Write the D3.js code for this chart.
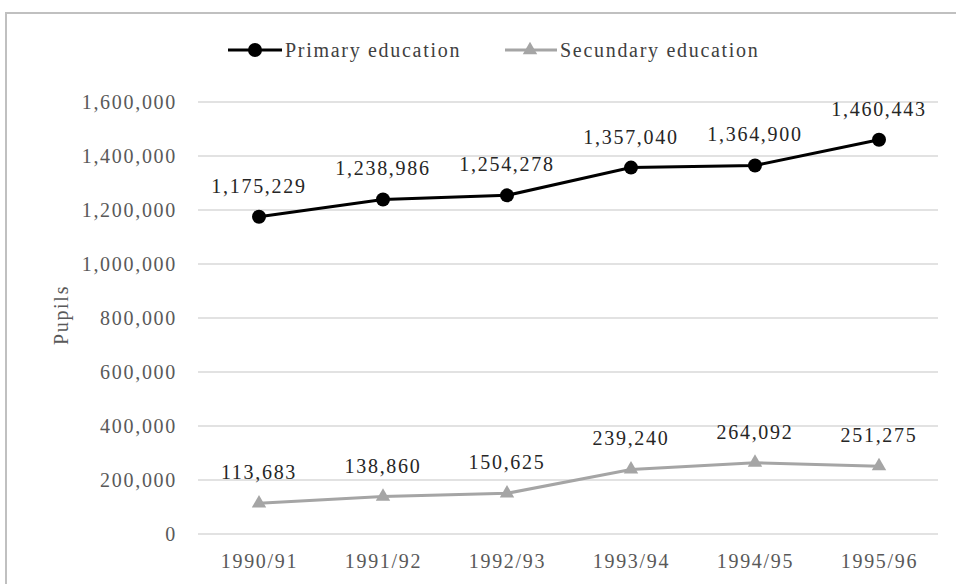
<!DOCTYPE html>
<html><head><meta charset="utf-8">
<script src="https://cdn.jsdelivr.net/npm/d3@7"></script>
</head>
<body style="margin:0;background:#fff;overflow:hidden"><svg id="c" width="956" height="584"></svg>
<script>
const categories = ["1990/91","1991/92","1992/93","1993/94","1994/95","1995/96"];
const primary = [1175229,1238986,1254278,1357040,1364900,1460443];
const secondary = [113683,138860,150625,239240,264092,251275];
const yTicks = [0,200000,400000,600000,800000,1000000,1200000,1400000,1600000];
const seriesNames = ["Primary education","Secundary education"];

const FONT = '"Liberation Serif"';
const LS = "1.7px";
const svg = d3.select("#c");
function txt(sel, size, fill){
  return sel.style("font-family",FONT).style("font-size",size+"px")
    .style("letter-spacing",LS).attr("fill",fill);
}
// chart border
svg.append("rect").attr("x",6).attr("y",13).attr("width",1000).attr("height",640)
  .attr("fill","#fff").attr("stroke","#c0c0c0").attr("stroke-width",2);

const x = d3.scalePoint().domain(categories).range([259,879]);
const y = d3.scaleLinear().domain([0,1600000]).range([534,102]);
const fmt = d3.format(",");

// gridlines
svg.append("g").selectAll("line").data(yTicks).join("line")
  .attr("x1",198).attr("x2",938).attr("y1",d=>y(d)).attr("y2",d=>y(d))
  .attr("stroke","#d9d9d9").attr("stroke-width",1.5);

// y axis
const ya = svg.append("g").attr("transform","translate(184,0)")
  .call(d3.axisLeft(y).tickValues(yTicks).tickFormat(fmt).tickSize(0).tickPadding(7));
ya.select(".domain").remove();
txt(ya.selectAll("text"),20,"#595959");

// x axis
const xa = svg.append("g").attr("transform","translate(0,534)")
  .call(d3.axisBottom(x).tickSize(0).tickPadding(20));
xa.select(".domain").remove();
txt(xa.selectAll("text"),20,"#595959");

// y title
txt(svg.append("text").attr("transform","translate(68,315) rotate(-90)")
  .attr("text-anchor","middle"),20,"#595959").text("Pupils");

const line = d3.line().x((d,i)=>x(categories[i])).y(d=>y(d));

// secondary series
svg.append("path").datum(secondary).attr("d",line).attr("fill","none")
  .attr("stroke","#a5a5a5").attr("stroke-width",3);
const tri = d3.symbol().type(d3.symbolTriangle).size(90);
svg.append("g").selectAll("path").data(secondary).join("path")
  .attr("d",tri).attr("fill","#a5a5a5")
  .attr("transform",(d,i)=>`translate(${x(categories[i])},${y(d)})`);

// primary series
svg.append("path").datum(primary).attr("d",line).attr("fill","none")
  .attr("stroke","#000").attr("stroke-width",3);
svg.append("g").selectAll("circle").data(primary).join("circle")
  .attr("cx",(d,i)=>x(categories[i])).attr("cy",d=>y(d)).attr("r",7).attr("fill","#000");

// data labels
function labels(arr){
  txt(svg.append("g").selectAll("text").data(arr).join("text")
    .attr("x",(d,i)=>x(categories[i])).attr("y",d=>y(d)-24)
    .attr("text-anchor","middle"),20,"#262626").text(d=>fmt(d));
}
labels(primary); labels(secondary);

// legend
const lg = svg.append("g");
lg.append("line").attr("x1",228).attr("x2",282).attr("y1",50).attr("y2",50)
  .attr("stroke","#000").attr("stroke-width",3);
lg.append("circle").attr("cx",255).attr("cy",50).attr("r",7).attr("fill","#000");
txt(lg.append("text").attr("x",285).attr("y",57),20,"#404040").text(seriesNames[0]);
lg.append("line").attr("x1",505).attr("x2",557).attr("y1",50).attr("y2",50)
  .attr("stroke","#a5a5a5").attr("stroke-width",3);
lg.append("path").attr("d",tri).attr("fill","#a5a5a5").attr("transform","translate(530,50)");
txt(lg.append("text").attr("x",560).attr("y",57),20,"#404040").text(seriesNames[1]);
</script></body></html>
